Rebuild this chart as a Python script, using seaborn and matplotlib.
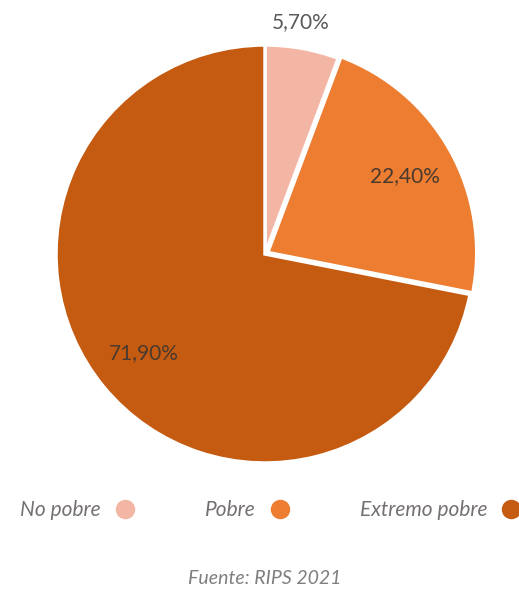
import numpy as np
import matplotlib.pyplot as plt
import seaborn as sns
from matplotlib.lines import Line2D

sns.set_theme(style='white')
plt.rcParams['font.family'] = ['Lato', 'DejaVu Sans']

# Datos
categorias = ['No pobre', 'Pobre', 'Extremo pobre']
porcentajes = [5.70, 22.40, 71.90]
colores = ['#F4B6A4', '#ED7D31', '#C55A11']
separacion = [0, 0.015, 0]

fig = plt.figure(figsize=(5.19, 5.99), dpi=100)
ax = fig.add_axes([0, 1 - 470 / 599, 1, 470 / 599])

wedges, texts, autotexts = ax.pie(
    porcentajes, colors=colores, explode=separacion, startangle=90,
    counterclock=False, radius=1, pctdistance=0.75,
    autopct=lambda p: f'{p:.2f}%'.replace('.', ','),
    wedgeprops=dict(edgecolor='white', linewidth=2.5),
    textprops=dict(fontsize=15, color='#4a3a2e'))

# escala en pixeles: centro (265, 254), radio 209 px
esc = 209
ax.set_xlim(-265 / esc, (519 - 265) / esc)
ax.set_ylim(-(470 - 254) / esc, 254 / esc)
ax.set_aspect('auto')
ax.axis('off')

# etiqueta del segmento pequeno encima del pastel
autotexts[0].set_position((0.17, 1.11))
autotexts[0].set_color('#595959')

# leyenda
handles = [Line2D([0], [0], marker='o', linestyle='', markersize=13,
                  markerfacecolor=c, markeredgecolor=c) for c in colores]
leg = fig.legend(handles, categorias, loc='center', bbox_to_anchor=(0.522, 1 - 510 / 599),
                 ncol=3, frameon=False, markerfirst=False, handletextpad=0.65,
                 columnspacing=3.35, handlelength=1.0,
                 prop=dict(family='Lato', style='italic', size=15))
for t in leg.get_texts():
    t.set_color('#767171')

fig.text(0.51, 1 - 578 / 599, 'Fuente: RIPS 2021', ha='center', va='center',
         fontsize=14, style='italic', color='#7f7f7f')

plt.savefig('out.png', dpi=100)
